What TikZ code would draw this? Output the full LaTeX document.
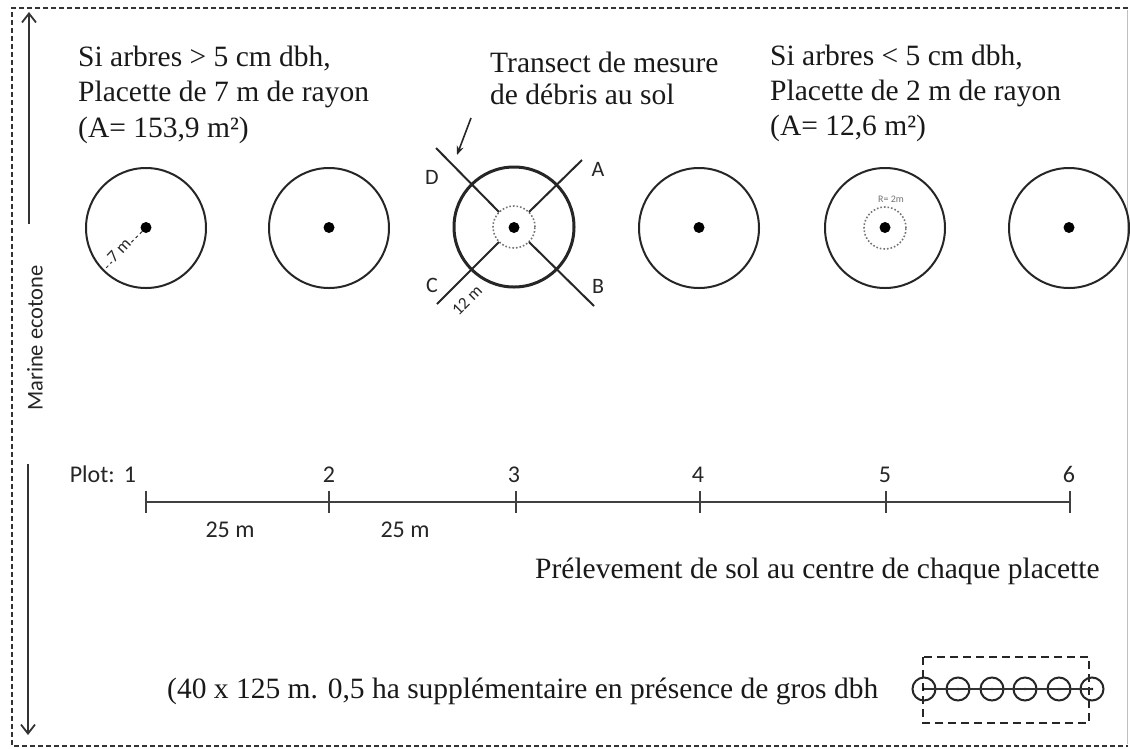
\documentclass[tikz,border=0pt]{standalone}
\usepackage{fontspec}
\setmainfont{Liberation Serif}
\newfontfamily\sansf{Carlito}
\usetikzlibrary{arrows.meta}
\begin{document}
\begin{tikzpicture}[x=1pt,y=-1pt,
  serif/.style={inner sep=0pt, anchor=base west, font=\fontsize{29.5}{33}\selectfont, text=black!90},
  sanslab/.style={inner sep=0pt, font=\sansf\fontsize{21}{24}\selectfont, text=black!85},
  ticklab/.style={inner sep=0pt, anchor=base, font=\sansf\fontsize{24}{26}\selectfont, text=black!85},
  plotc/.style={circle, draw=black!85, line width=2pt, minimum size=120pt, inner sep=0pt},
  ctr/.style={circle, fill=black, minimum size=11pt, inner sep=0pt},
  innerc/.style={circle, draw=black!55, dotted, line width=1.6pt, minimum size=42pt, inner sep=0pt},
  border/.style={line width=1.3pt, dash pattern=on 5pt off 3pt, draw=black!80},
  tran/.style={line width=2pt, draw=black!85},
  smallc/.style={circle, draw=black!85, line width=2pt, minimum size=23pt, inner sep=0pt},
  boxdash/.style={line width=2.4pt, dash pattern=on 8pt off 5pt, draw=black!85},
  bigarrow/.style={line width=2pt, draw=black!80, -{Straight Barb[length=9pt,width=14pt,line width=1.8pt]}},
]
\useasboundingbox (0,0) rectangle (1130,748);

% frame
\draw[border] (1128,8) -- (12,8) -- (12,746) -- (1128,746);
\draw[black!25, line width=0.8pt] (1127,10) -- (1127,744);

% marine ecotone arrows
\coordinate (mu0) at (29,224);
\coordinate (mu1) at (29,12);
\coordinate (md0) at (28,464);
\coordinate (md1) at (28,735);
\draw[bigarrow] (mu0) -- (mu1);
\draw[bigarrow] (md0) -- (md1);
\node[sanslab, font=\sansf\fontsize{22.5}{24}\selectfont, rotate=90] (eco) at (35,338) {Marine ecotone};

% header texts
\node[serif] (l1) at (78,66) {Si arbres > 5 cm dbh,};
\node[serif] (l2) at (78,101) {Placette de 7 m de rayon};
\node[serif] (l3) at (78,137) {(A= 153,9 m²)};
\node[serif] (m1) at (490,72) {Transect de mesure};
\node[serif] (m2) at (490,104) {de débris au sol};
\node[serif] (r1) at (770,65) {Si arbres < 5 cm dbh,};
\node[serif] (r2) at (770,100) {Placette de 2 m de rayon};
\node[serif] (r3) at (770,135) {(A= 12,6 m²)};

% plots
\foreach \i/\x in {1/146,2/329,4/699,5/885,6/1069} {
  \node[plotc] (p\i) at (\x,228) {};
}
\node[plotc, line width=3pt] (p3) at (514,227) {};
\node[innerc] (in3) at (514,227) {};
\node[innerc] (in5) at (885,228) {};
\foreach \i/\x in {1/146,2/329,3/514,4/699,5/885,6/1069} {
  \node[ctr] (c\i) at (\x,227.5) {};
}

% radius 7 m
\coordinate (r7) at (104,270);
\draw[dashed, line width=1pt, black!80] (c1) -- (r7);
\node[sanslab, font=\sansf\fontsize{17}{18}\selectfont, rotate=47, fill=white, inner sep=0.5pt] (t7) at (119,250) {7 m};

% R= 2m
\node[sanslab, font=\sansf\fontsize{10}{11}\selectfont, text=black!55] (r2m) at (891,199) {R= 2m};

% transects
\coordinate (eA) at (582,160);
\coordinate (iA) at (529,212);
\coordinate (eB) at (594,306);
\coordinate (iB) at (529,242);
\coordinate (eC) at (437,304);
\coordinate (iC) at (499,242);
\coordinate (eD) at (436,148);
\coordinate (iD) at (499,212);
\draw[tran] (eA) -- (iA);
\draw[tran] (eB) -- (iB);
\draw[tran] (eC) -- (iC);
\draw[tran] (eD) -- (iD);
\node[sanslab, font=\sansf\fontsize{22}{24}\selectfont] (lA) at (598,169) {A};
\node[sanslab, font=\sansf\fontsize{22}{24}\selectfont] (lB) at (598,286) {B};
\node[sanslab, font=\sansf\fontsize{22}{24}\selectfont] (lC) at (432,285) {C};
\node[sanslab, font=\sansf\fontsize{22}{24}\selectfont] (lD) at (432,177) {D};
\node[sanslab, font=\sansf\fontsize{17}{18}\selectfont, rotate=45] (t12) at (467,300) {12 m};

% pointer arrow
\coordinate (pa0) at (471,118);
\coordinate (pa1) at (457,155);
\draw[line width=1.6pt, black!85, -{Stealth[length=9pt,width=7pt]}] (pa0) -- (pa1);

% timeline
\foreach \i/\x in {1/146,2/329,3/516,4/700,5/886,6/1070} {
  \coordinate (k\i) at (\x,502);
  \draw[line width=1.6pt, black!75] (\x,491) -- (\x,513);
}
\draw[line width=2pt, black!75] (k1) -- (k6);
\node[ticklab, anchor=base east] (plot) at (115,482) {Plot:};
\node[ticklab] (n1) at (130,482) {1};
\node[ticklab] (n2) at (329,482) {2};
\node[ticklab] (n3) at (514,482) {3};
\node[ticklab] (n4) at (698,482) {4};
\node[ticklab] (n5) at (885,482) {5};
\node[ticklab] (n6) at (1069,482) {6};
\node[ticklab] (d1) at (230,537) {25 m};
\node[ticklab] (d2) at (405,537) {25 m};

% bottom texts
\node[serif] (pre) at (535,578) {Prélevement de sol au centre de chaque placette};
\node[serif] (sup) at (167,698) {(40 x 125 m. 0,5 ha supplémentaire en présence de gros dbh};

% small layout
\draw[boxdash] (923,657) rectangle (1089,723);
\foreach \i/\x in {1/924,2/958,3/992,4/1025,5/1059,6/1092} {
  \node[smallc] (s\i) at (\x,689) {};
  \fill[black] (\x,689) circle (1.3);
}
\draw[line width=1.5pt, black!80] (s1.center) -- (s6.center);
\end{tikzpicture}
\end{document}
